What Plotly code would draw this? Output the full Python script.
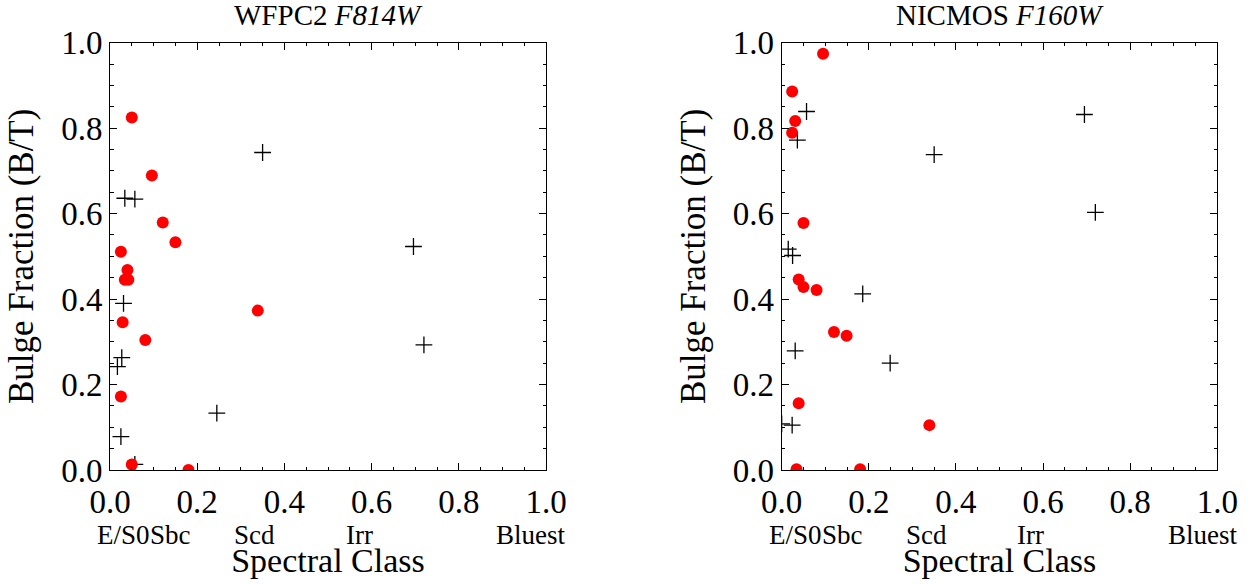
import plotly.graph_objects as go

# ---------------- data ----------------
# WFPC2 F814W panel
wf_red_x = [0.050, 0.096, 0.121, 0.150, 0.025, 0.040, 0.034, 0.042, 0.029, 0.081, 0.339, 0.025, 0.050, 0.180]
wf_red_y = [0.825, 0.689, 0.579, 0.533, 0.511, 0.468, 0.445, 0.445, 0.346, 0.304, 0.373, 0.172, 0.013, 0.000]
wf_plus_x = [0.350, 0.034, 0.057, 0.031, 0.027, 0.017, 0.025, 0.245, 0.696, 0.720, 0.057]
wf_plus_y = [0.743, 0.636, 0.634, 0.390, 0.263, 0.242, 0.078, 0.133, 0.523, 0.293, 0.013]

# NICMOS F160W panel
nic_red_x = [0.095, 0.024, 0.031, 0.024, 0.050, 0.039, 0.050, 0.080, 0.120, 0.149, 0.039, 0.339, 0.034, 0.180]
nic_red_y = [0.974, 0.886, 0.817, 0.789, 0.578, 0.446, 0.428, 0.421, 0.323, 0.314, 0.156, 0.105, 0.002, 0.002]
nic_plus_x = [0.057, 0.036, 0.350, 0.015, 0.025, 0.186, 0.031, 0.249, 0.024, 0.000, 0.695, 0.720]
nic_plus_y = [0.839, 0.772, 0.738, 0.517, 0.502, 0.412, 0.279, 0.250, 0.105, 0.108, 0.832, 0.603]

tick_vals = [0.0, 0.2, 0.4, 0.6, 0.8, 1.0]
tick_text = ["0.0", "0.2", "0.4", "0.6", "0.8", "1.0"]

class_labels = ["E/S0", "Sbc", "Scd", "Irr", "Bluest"]
class_pos = [-0.031, 0.090, 0.283, 0.539, 0.884]

panel_titles = ["WFPC2 <i>F814W</i>", "NICMOS <i>F160W</i>"]

# ---------------- figure ----------------
W, H = 1252, 584
FONT = "Liberation Serif"

fig = go.Figure()

panels = [
    (wf_red_x, wf_red_y, wf_plus_x, wf_plus_y, "x", "y"),
    (nic_red_x, nic_red_y, nic_plus_x, nic_plus_y, "x2", "y2"),
]
for rx, ry, px, py, xa, ya in panels:
    fig.add_trace(go.Scatter(
        x=px, y=py, mode="markers", xaxis=xa, yaxis=ya,
        marker=dict(symbol="cross-thin", size=12, color="black",
                    line=dict(width=1.3, color="black")),
        showlegend=False, hoverinfo="skip"))
    fig.add_trace(go.Scatter(
        x=rx, y=ry, mode="markers", xaxis=xa, yaxis=ya,
        marker=dict(symbol="circle", size=12, color="#ff0000", line=dict(width=0)),
        showlegend=False, hoverinfo="skip"))

x_domains = [[110 / W, 546 / W], [781.7 / W, 1217.3 / W]]
y_domain = [1 - 470 / H, 1 - 42.7 / H]

def axis_common():
    return dict(
        range=[0, 1], tickmode="array", tickvals=tick_vals, ticktext=tick_text,
        ticks="inside", ticklen=7, tickwidth=1, tickcolor="black",
        minor=dict(dtick=0.05, ticks="inside", ticklen=3.5, tickwidth=1, tickcolor="black"),
        showline=True, linecolor="black", linewidth=1, mirror="allticks",
        showgrid=False, zeroline=False,
        tickfont=dict(family=FONT, size=33, color="black"),
        fixedrange=True,
    )

for i, (xn, yn) in enumerate([("xaxis", "yaxis"), ("xaxis2", "yaxis2")]):
    xa = axis_common()
    xa.update(domain=x_domains[i], anchor="y" if i == 0 else "y2",
              title=dict(text="Spectral Class", font=dict(family=FONT, size=34, color="black"),
                         standoff=29),
              ticklabelstandoff=2)
    ya = axis_common()
    ya.update(domain=y_domain, anchor="x" if i == 0 else "x2",
              title=dict(text="Bulge Fraction (B/T)", font=dict(family=FONT, size=35, color="black"),
                         standoff=16),
              ticklabelstandoff=0)
    fig.layout[xn] = xa
    fig.layout[yn] = ya

annotations = []
for i in range(2):
    xdom = "x domain" if i == 0 else "x2 domain"
    for lab, pos in zip(class_labels, class_pos):
        annotations.append(dict(
            x=pos, xref=xdom, y=1 - 535 / H, yref="paper",
            text=lab, showarrow=False, xanchor="left", yanchor="middle", borderpad=0,
            font=dict(family=FONT, size=27, color="black")))
    annotations.append(dict(
        x=0.5, xref=xdom, y=1 - 15 / H, yref="paper",
        text=panel_titles[i], showarrow=False, xanchor="center", yanchor="middle", borderpad=0,
        font=dict(family=FONT, size=29, color="black")))

fig.update_layout(
    width=W, height=H,
    margin=dict(l=0, r=0, t=0, b=0, autoexpand=False),
    paper_bgcolor="white", plot_bgcolor="white",
    annotations=annotations,
    font=dict(family=FONT, color="black"),
)

fig.write_html("out.html",
               config={"displayModeBar": False, "staticPlot": True},
               post_script="document.body.style.margin='0px';document.body.style.overflow='hidden';")
